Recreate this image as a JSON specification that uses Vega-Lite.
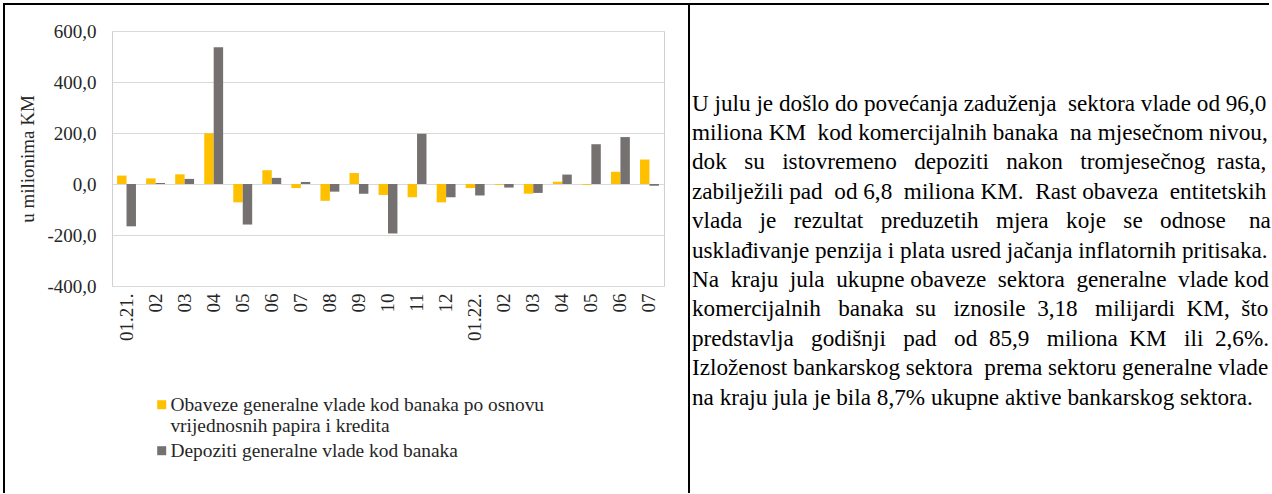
{
  "$schema": "https://vega.github.io/schema/vega-lite/v6.json",
  "background": "white",
  "padding": {"left": 3, "top": 3, "right": 0, "bottom": 0},
  "bounds": "flush",
  "columns": 3,
  "spacing": {"row": 0, "column": 0},
  "config": {"view": {"stroke": null}, "font": "Liberation Serif"},
  "datasets": {
    "para": [
      {"line": 1, "text": "U julu je došlo do povećanja zaduženja \u00a0sektora vlade od 96,0"},
      {"line": 2, "text": "miliona KM \u00a0kod komercijalnih banaka \u00a0na mjesečnom nivou,"},
      {"line": 3, "text": "dok \u00a0\u00a0su \u00a0\u00a0istovremeno \u00a0\u00a0depoziti \u00a0\u00a0nakon \u00a0\u00a0tromjesečnog \u00a0rasta,"},
      {"line": 4, "text": "zabilježili pad \u00a0od 6,8 \u00a0miliona KM. \u00a0Rast obaveza \u00a0entitetskih"},
      {"line": 5, "text": "vlada \u00a0\u00a0je \u00a0\u00a0rezultat \u00a0\u00a0preduzetih \u00a0\u00a0mjera \u00a0\u00a0koje \u00a0\u00a0se \u00a0\u00a0odnose \u00a0\u00a0\u00a0na"},
      {"line": 6, "text": "usklađivanje penzija i plata usred jačanja inflatornih pritisaka."},
      {"line": 7, "text": "Na \u00a0kraju \u00a0jula \u00a0ukupne obaveze \u00a0sektora \u00a0generalne \u00a0vlade kod"},
      {"line": 8, "text": "komercijalnih \u00a0\u00a0banaka \u00a0su \u00a0\u00a0iznosile \u00a03,18 \u00a0\u00a0milijardi \u00a0KM, \u00a0što"},
      {"line": 9, "text": "predstavlja \u00a0\u00a0godišnji \u00a0\u00a0pad \u00a0\u00a0od \u00a085,9 \u00a0\u00a0miliona \u00a0KM \u00a0\u00a0ili \u00a02,6%."},
      {"line": 10, "text": "Izloženost bankarskog sektora \u00a0prema sektoru generalne vlade"},
      {"line": 11, "text": "na kraju jula je bila 8,7% ukupne aktive bankarskog sektora."}
    ],
    "bars": [
      {"period": "2021-01", "Obaveze generalne vlade kod banaka po osnovu vrijednosnih papira i kredita": 33, "Depoziti generalne vlade kod banaka": -166},
      {"period": "2021-02", "Obaveze generalne vlade kod banaka po osnovu vrijednosnih papira i kredita": 22, "Depoziti generalne vlade kod banaka": 4},
      {"period": "2021-03", "Obaveze generalne vlade kod banaka po osnovu vrijednosnih papira i kredita": 38, "Depoziti generalne vlade kod banaka": 20},
      {"period": "2021-04", "Obaveze generalne vlade kod banaka po osnovu vrijednosnih papira i kredita": 199, "Depoziti generalne vlade kod banaka": 536},
      {"period": "2021-05", "Obaveze generalne vlade kod banaka po osnovu vrijednosnih papira i kredita": -72, "Depoziti generalne vlade kod banaka": -159},
      {"period": "2021-06", "Obaveze generalne vlade kod banaka po osnovu vrijednosnih papira i kredita": 54, "Depoziti generalne vlade kod banaka": 24},
      {"period": "2021-07", "Obaveze generalne vlade kod banaka po osnovu vrijednosnih papira i kredita": -16, "Depoziti generalne vlade kod banaka": 8},
      {"period": "2021-08", "Obaveze generalne vlade kod banaka po osnovu vrijednosnih papira i kredita": -66, "Depoziti generalne vlade kod banaka": -30},
      {"period": "2021-09", "Obaveze generalne vlade kod banaka po osnovu vrijednosnih papira i kredita": 43, "Depoziti generalne vlade kod banaka": -38},
      {"period": "2021-10", "Obaveze generalne vlade kod banaka po osnovu vrijednosnih papira i kredita": -43, "Depoziti generalne vlade kod banaka": -194},
      {"period": "2021-11", "Obaveze generalne vlade kod banaka po osnovu vrijednosnih papira i kredita": -52, "Depoziti generalne vlade kod banaka": 197},
      {"period": "2021-12", "Obaveze generalne vlade kod banaka po osnovu vrijednosnih papira i kredita": -72, "Depoziti generalne vlade kod banaka": -52},
      {"period": "2022-01", "Obaveze generalne vlade kod banaka po osnovu vrijednosnih papira i kredita": -16, "Depoziti generalne vlade kod banaka": -45},
      {"period": "2022-02", "Obaveze generalne vlade kod banaka po osnovu vrijednosnih papira i kredita": -3, "Depoziti generalne vlade kod banaka": -14},
      {"period": "2022-03", "Obaveze generalne vlade kod banaka po osnovu vrijednosnih papira i kredita": -38, "Depoziti generalne vlade kod banaka": -35},
      {"period": "2022-04", "Obaveze generalne vlade kod banaka po osnovu vrijednosnih papira i kredita": 9, "Depoziti generalne vlade kod banaka": 37},
      {"period": "2022-05", "Obaveze generalne vlade kod banaka po osnovu vrijednosnih papira i kredita": -3, "Depoziti generalne vlade kod banaka": 156},
      {"period": "2022-06", "Obaveze generalne vlade kod banaka po osnovu vrijednosnih papira i kredita": 48, "Depoziti generalne vlade kod banaka": 184},
      {"period": "2022-07", "Obaveze generalne vlade kod banaka po osnovu vrijednosnih papira i kredita": 96, "Depoziti generalne vlade kod banaka": -6.8}
    ]
  },
  "concat": [
    {
      "width": 108, "height": 27,
      "view": {"stroke": "black", "strokeWidth": 2, "strokeDash": [108, 135, 27]},
      "data": {"values": []},
      "mark": "text"
    },
    {
      "width": 577, "height": 27,
      "view": {"stroke": "black", "strokeWidth": 2, "strokeDash": [577, 631]},
      "data": {"values": []},
      "mark": "text"
    },
    {
      "width": 580, "height": 27,
      "view": {"stroke": "black", "strokeWidth": 2, "strokeDash": [580, 607, 27]},
      "data": {"values": []},
      "mark": "text"
    },
    {
      "width": 108, "height": 255,
      "view": {"stroke": "black", "strokeWidth": 2, "strokeDash": [0, 471, 255]},
      "data": {"values": []},
      "mark": "text"
    },
    {
      "width": 552, "height": 255,
      "view": {"stroke": "#d0d0d0", "strokeWidth": 1},
      "data": {"name": "bars"},
      "transform": [
        {"fold": ["Obaveze generalne vlade kod banaka po osnovu vrijednosnih papira i kredita", "Depoziti generalne vlade kod banaka"], "as": ["series", "value"]}
      ],
      "mark": {"type": "bar"},
      "encoding": {
        "x": {
          "field": "period", "type": "nominal", "sort": "ascending",
          "scale": {"paddingInner": 0.35, "paddingOuter": 0.175},
          "axis": {
            "title": null, "labelAngle": -90, "ticks": false, "domain": false, "grid": false,
            "labelPadding": 7, "labelFontSize": 19, "labelFont": "Liberation Serif", "labelColor": "#262626",
            "labelExpr": "substring(datum.value, 5) == '01' ? '01.' + substring(datum.value, 2, 4) + '.' : substring(datum.value, 5)"
          }
        },
        "xOffset": {
          "field": "series", "type": "nominal",
          "sort": ["Obaveze generalne vlade kod banaka po osnovu vrijednosnih papira i kredita", "Depoziti generalne vlade kod banaka"],
          "scale": {"paddingInner": 0, "paddingOuter": 0}
        },
        "y": {
          "field": "value", "type": "quantitative",
          "scale": {"domain": [-400, 600], "nice": false},
          "axis": {
            "values": [-400, -200, 0, 200, 400, 600],
            "title": "u milionima KM", "titleFontSize": 19, "titleFont": "Liberation Serif", "titleFontWeight": "normal", "titleColor": "#262626", "titlePadding": 9,
            "labelFontSize": 19, "labelFont": "Liberation Serif", "labelColor": "#262626", "labelPadding": 16,
            "ticks": false, "domain": false, "grid": true, "gridColor": "#d9d9d9", "gridWidth": 1,
            "labelExpr": "(datum.value < 0 ? '-' : '') + replace(format(abs(datum.value), '.1f'), '.', ',')"
          }
        },
        "color": {
          "field": "series", "type": "nominal",
          "scale": {
            "domain": ["Obaveze generalne vlade kod banaka po osnovu vrijednosnih papira i kredita", "Depoziti generalne vlade kod banaka"],
            "range": ["#FFC000", "#767171"]
          },
          "legend": {
            "orient": "none", "legendX": 148, "legendY": 391, "direction": "vertical", "title": null, "padding": 0,
            "symbolType": "square", "symbolSize": 81, "symbolStrokeWidth": 0, "symbolOpacity": 1,
            "labelFontSize": 19.4, "labelFont": "Liberation Serif", "labelColor": "#262626", "labelLimit": 700, "labelOffset": -1, "rowPadding": 4,
            "labelExpr": "datum.label == 'Obaveze generalne vlade kod banaka po osnovu vrijednosnih papira i kredita' ? ['Obaveze generalne vlade kod banaka po osnovu', 'vrijednosnih papira i kredita'] : datum.label"
          }
        }
      }
    },
    {
      "width": 580, "height": 255,
      "view": {"stroke": "black", "strokeWidth": 2, "strokeDash": [0, 1415, 255]},
      "data": {"name": "para"},
      "transform": [{"filter": "datum.line <= 7"}],
      "mark": {"type": "text", "align": "left", "baseline": "middle", "fontSize": 23.2, "font": "Liberation Serif", "color": "black", "dx": 3},
      "encoding": {
        "x": {"datum": 0, "type": "quantitative", "scale": {"domain": [0, 1]}, "axis": null},
        "y": {"field": "line", "type": "quantitative", "scale": {"domain": [-1.4736, 7.2028], "reverse": true, "zero": false, "nice": false}, "axis": null},
        "text": {"field": "text"}
      }
    },
    {
      "width": 108, "height": 207,
      "view": {"stroke": "black", "strokeWidth": 2, "strokeDash": [0, 423, 207]},
      "data": {"values": []},
      "mark": "text"
    },
    {
      "width": 1, "height": 1,
      "data": {"values": []},
      "mark": "text"
    },
    {
      "width": 580, "height": 207,
      "view": {"stroke": "black", "strokeWidth": 2, "strokeDash": [0, 1367, 207]},
      "data": {"name": "para"},
      "transform": [{"filter": "datum.line >= 8"}],
      "mark": {"type": "text", "align": "left", "baseline": "middle", "fontSize": 23.2, "font": "Liberation Serif", "color": "black", "dx": 3},
      "encoding": {
        "x": {"datum": 0, "type": "quantitative", "scale": {"domain": [0, 1]}, "axis": null},
        "y": {"field": "line", "type": "quantitative", "scale": {"domain": [7.2028, 14.246], "reverse": true, "zero": false, "nice": false}, "axis": null},
        "text": {"field": "text"}
      }
    }
  ]
}
